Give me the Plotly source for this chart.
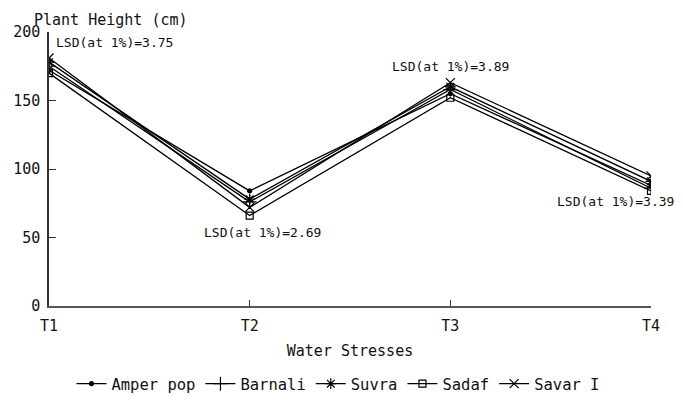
import plotly.graph_objects as go

treatments = ["T1", "T2", "T3", "T4"]
series_names = ["Amper pop", "Barnali", "Suvra", "Sadaf", "Savar I"]
amper_pop = [172, 84, 155, 88]
barnali = [175, 76, 158, 86]
suvra = [178, 78, 160, 91]
sadaf = [170, 66, 152, 84]
savar_i = [181, 72, 163, 95]
values = [amper_pop, barnali, suvra, sadaf, savar_i]
symbols = ["circle", "cross-thin", "asterisk", "square-open", "x-thin"]
sizes = [4, 10, 9, 7, 9]
lsd_labels = ["LSD(at 1%)=3.75", "LSD(at 1%)=2.69", "LSD(at 1%)=3.89", "LSD(at 1%)=3.39"]

FONT = "DejaVu Sans Mono"
TXT = "#111"
fig = go.Figure()
for name, vals, sym, sz in zip(series_names, values, symbols, sizes):
    fig.add_trace(go.Scatter(
        x=treatments, y=vals, mode="lines+markers", name=name,
        line=dict(color="black", width=1.3),
        marker=dict(symbol=sym, size=sz, color="black",
                    line=dict(color="black", width=1.2)),
    ))

lsd_font = dict(family=FONT, size=13, color=TXT)
fig.add_annotation(x="T1", y=192.5, text=lsd_labels[0], showarrow=False,
                   xanchor="left", yanchor="middle", xshift=5, font=lsd_font)
fig.add_annotation(x="T2", y=54, text=lsd_labels[1], showarrow=False,
                   xanchor="center", yanchor="middle", xshift=13, font=lsd_font)
fig.add_annotation(x="T3", y=175, text=lsd_labels[2], showarrow=False,
                   xanchor="center", yanchor="middle", font=lsd_font)
fig.add_annotation(x="T4", y=76, text=lsd_labels[3], showarrow=False,
                   xanchor="center", yanchor="middle", xshift=-36, font=lsd_font)
fig.add_annotation(x=0, y=1.084, xref="paper", yref="paper", text="Plant Height (cm)",
                   showarrow=False, xanchor="left", yanchor="top", xshift=-17,
                   font=dict(family=FONT, size=15, color=TXT))

# the page body adds an 8px margin, so the figure fills the remaining 675x395
fig.update_layout(
    width=675, height=395,
    margin=dict(l=41, r=32, t=24, b=97, autoexpand=False),
    paper_bgcolor="white", plot_bgcolor="white",
    font=dict(family=FONT, size=15, color=TXT),
    showlegend=True,
    legend=dict(orientation="h", x=0.48, xanchor="center", y=-0.285, yanchor="middle",
                font=dict(family=FONT, size=15.5, color=TXT), itemwidth=30,
                tracegroupgap=0),
    xaxis=dict(range=[0, 3], showgrid=False, zeroline=False, showline=True,
               linecolor="#555", linewidth=1.5, ticks="inside", ticklen=6,
               tickcolor="#333", tickfont=dict(family=FONT, size=15),
               ticklabelstandoff=5, automargin=False,
               title=dict(text="Water Stresses", font=dict(family=FONT, size=15), standoff=12)),
    yaxis=dict(range=[0, 200], dtick=50, showgrid=False, zeroline=False, showline=True,
               linecolor="#333", linewidth=1.5, ticks="inside", ticklen=7,
               tickcolor="#333", tickfont=dict(family=FONT, size=15),
               ticklabelstandoff=4, automargin=False),
)
fig.write_html("out.html")
